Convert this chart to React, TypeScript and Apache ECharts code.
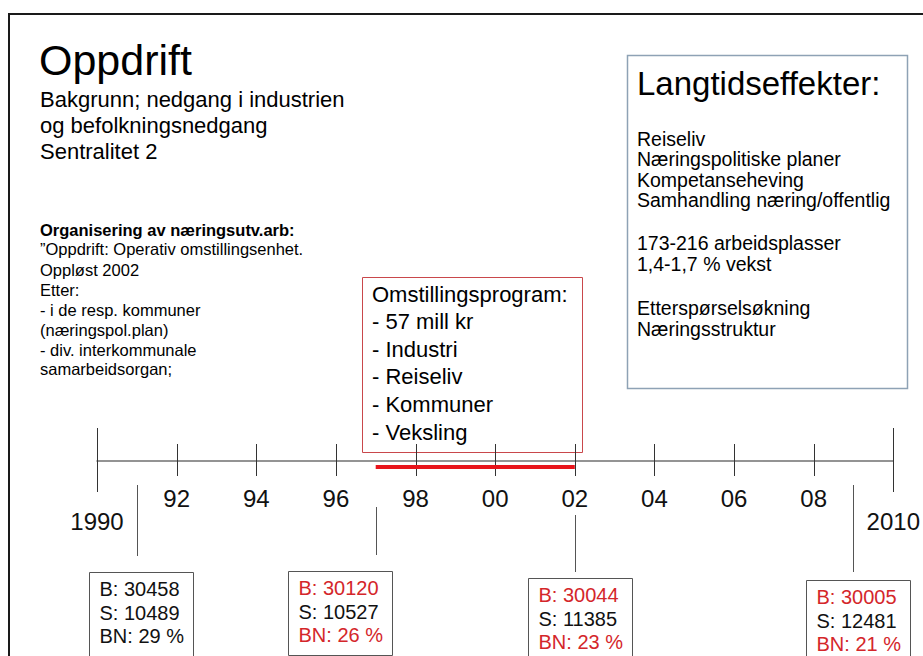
import React, { useEffect, useRef } from "react";
import * as echarts from "echarts";

// ---------- data ----------
const yearMin = 1990;
const yearMax = 2010;
const majorTickYears = [1990, 2010];
const minorTickYears = [1992, 1994, 1996, 1998, 2000, 2002, 2004, 2006, 2008];
const programPeriod = [1997, 2002];
const snapshotYears = [1991, 1997, 2002, 2009];
const populationB = [30458, 30120, 30044, 30005];
const centralS = [10489, 10527, 11385, 12481];
const shareBN = [29, 26, 23, 21];
const highlighted = [false, true, true, true];

const titleText = "Oppdrift";
const backgroundLines = ["Bakgrunn; nedgang i industrien", "og befolkningsnedgang", "Sentralitet 2"];
const orgHeading = "Organisering av næringsutv.arb:";
const orgLines = [
  "”Oppdrift: Operativ omstillingsenhet.",
  "Oppløst 2002",
  "Etter:",
  "- i de resp. kommuner",
  "(næringspol.plan)",
  "- div. interkommunale",
  "samarbeidsorgan;",
];
const programLines = ["Omstillingsprogram:", "- 57 mill kr", "- Industri", "- Reiseliv", "- Kommuner", "- Veksling"];
const effectsTitle = "Langtidseffekter:";
const effectsLines = [
  "Reiseliv",
  "Næringspolitiske planer",
  "Kompetanseheving",
  "Samhandling næring/offentlig",
  "173-216 arbeidsplasser",
  "1,4-1,7 % vekst",
  "Etterspørselsøkning",
  "Næringsstruktur",
];

// ---------- style / layout ----------
const W = 923;
const H = 656;
const FONT = "'Liberation Sans', Arial, Helvetica, sans-serif";
const RED = "#d4262a";
const AXIS_Y = 461;
const MAJOR_SPAN = [428, 492];
const MINOR_SPAN = [444, 476];
const BAR_Y = 467;
const connectorSpans = [
  [485, 556],
  [507, 555],
  [515, 572],
  [485, 572],
];
const boxLeftOffset = [-48, -88, -47, -47];
const boxTops = [572, 571, 578, 580];
const BOX_W = 104;
const BOX_H = 84;
const effectsY = [139, 159, 180, 200, 243, 264, 308, 329];
const orgY = [249, 270, 290, 310, 330, 350, 369];

function txt(text: string, x: number, y: number, size: number, opts: any = {}) {
  return {
    type: "text",
    x,
    y,
    silent: true,
    style: {
      text,
      fontSize: size,
      fontFamily: FONT,
      fontWeight: opts.bold ? "bold" : "normal",
      fill: opts.color || "#000",
      textAlign: opts.align || "left",
      textVerticalAlign: "middle",
    },
  };
}

export default function App() {
  const ref = useRef<HTMLDivElement>(null);

  useEffect(() => {
    if (!ref.current) return;
    const chart = echarts.init(ref.current, undefined, { renderer: "svg" });

    const tickData = [
      ...majorTickYears.map((y) => [y, MAJOR_SPAN[0], MAJOR_SPAN[1]]),
      ...minorTickYears.map((y) => [y, MINOR_SPAN[0], MINOR_SPAN[1]]),
    ];
    const connectorData = snapshotYears.map((y, i) => [y, connectorSpans[i][0], connectorSpans[i][1]]);
    const boxData = snapshotYears.map((y, i) => [y, populationB[i], centralS[i], shareBN[i], highlighted[i] ? 1 : 0, i]);

    const graphic: any[] = [
      {
        type: "rect",
        silent: true,
        shape: { x: 9, y: 14, width: W + 20, height: H + 20 },
        style: { fill: "none", stroke: "#1a1a1a", lineWidth: 2 },
      },
      txt(titleText, 39, 60, 43),
      ...backgroundLines.map((t, i) => txt(t, 40, 99 + i * 26, 22)),
      txt(orgHeading, 40, 230, 16.5, { bold: true }),
      ...orgLines.map((t, i) => txt(t, 40, orgY[i], 16.5)),
      {
        type: "rect",
        silent: true,
        shape: { x: 362.5, y: 277.5, width: 220, height: 175 },
        style: { fill: "#fff", stroke: "#c9474b", lineWidth: 1 },
      },
      ...programLines.map((t, i) => txt(t, 372, 294 + i * 27.6, 22)),
      {
        type: "rect",
        silent: true,
        shape: { x: 627.5, y: 55.5, width: 280, height: 333 },
        style: { fill: "#fff", stroke: "#8ea2b5", lineWidth: 1.5 },
      },
      txt(effectsTitle, 637, 83, 33),
      ...effectsLines.map((t, i) => txt(t, 637, effectsY[i], 19.5)),
    ];

    const option: any = {
      animation: false,
      backgroundColor: "#fff",
      grid: { left: 97, right: W - 894, top: 0, height: AXIS_Y, containLabel: false },
      xAxis: {
        type: "value",
        position: "bottom",
        min: yearMin,
        max: yearMax,
        interval: 2,
        axisLine: { show: true, onZero: false, lineStyle: { color: "#707070", width: 1.5 } },
        axisTick: { show: false },
        splitLine: { show: false },
        axisLabel: {
          margin: 25,
          color: "#111",
          fontSize: 24,
          fontFamily: FONT,
          formatter: (v: number) =>
            v === yearMin || v === yearMax ? `{end|${v}}` : `{mid|${String(v).slice(2)}}`,
          rich: {
            mid: { fontSize: 24, fontFamily: FONT, color: "#111" },
            end: { fontSize: 24, fontFamily: FONT, color: "#111", padding: [23, 0, 0, 0] },
          },
        },
      },
      yAxis: { type: "value", min: 0, max: AXIS_Y, inverse: true, show: false },
      graphic,
      series: [
        {
          type: "custom",
          name: "ticks",
          silent: true,
          clip: false,
          data: tickData,
          renderItem: (_p: any, api: any) => {
            const a = api.coord([api.value(0), api.value(1)]);
            const b = api.coord([api.value(0), api.value(2)]);
            return {
              type: "line",
              shape: { x1: Math.round(a[0]) + 0.5, y1: a[1], x2: Math.round(b[0]) + 0.5, y2: b[1] },
              style: { stroke: "#333", lineWidth: 1 },
            };
          },
        },
        {
          type: "custom",
          name: "program",
          silent: true,
          clip: false,
          data: [programPeriod],
          renderItem: (_p: any, api: any) => {
            const a = api.coord([api.value(0), BAR_Y]);
            const b = api.coord([api.value(1), BAR_Y]);
            return {
              type: "line",
              shape: { x1: a[0], y1: a[1], x2: b[0], y2: b[1] },
              style: { stroke: "#e8141b", lineWidth: 4 },
            };
          },
        },
        {
          type: "custom",
          name: "connectors",
          silent: true,
          clip: false,
          data: connectorData,
          renderItem: (_p: any, api: any) => {
            const a = api.coord([api.value(0), api.value(1)]);
            const b = api.coord([api.value(0), api.value(2)]);
            return {
              type: "line",
              shape: { x1: Math.round(a[0]) + 0.5, y1: a[1], x2: Math.round(b[0]) + 0.5, y2: b[1] },
              style: { stroke: "#555", lineWidth: 1 },
            };
          },
        },
        {
          type: "custom",
          name: "snapshots",
          silent: true,
          clip: false,
          data: boxData,
          renderItem: (_p: any, api: any) => {
            const i = api.value(5);
            const top = boxTops[i];
            const c = api.coord([api.value(0), top]);
            const left = Math.round(c[0] + boxLeftOffset[i]) + 0.5;
            const hi = api.value(4) === 1;
            const line = (text: string, k: number, color: string) => ({
              type: "text",
              style: {
                text,
                x: left + 10,
                y: top + 17 + k * 23.5,
                fill: color,
                fontSize: 20,
                fontFamily: FONT,
                verticalAlign: "middle",
                align: "left",
              },
            });
            return {
              type: "group",
              children: [
                {
                  type: "rect",
                  shape: { x: left, y: top + 0.5, width: BOX_W, height: BOX_H },
                  style: { fill: "#fff", stroke: "#555", lineWidth: 1 },
                },
                line(`B: ${api.value(1)}`, 0, hi ? RED : "#111"),
                line(`S: ${api.value(2)}`, 1, "#111"),
                line(`BN: ${api.value(3)} %`, 2, hi ? RED : "#111"),
              ],
            };
          },
        },
      ],
    };

    chart.setOption(option);
    return () => chart.dispose();
  }, []);

  return (
    <div
      ref={ref}
      style={{ position: "fixed", left: 0, top: 0, width: W, height: H, background: "#fff" }}
    />
  );
}
